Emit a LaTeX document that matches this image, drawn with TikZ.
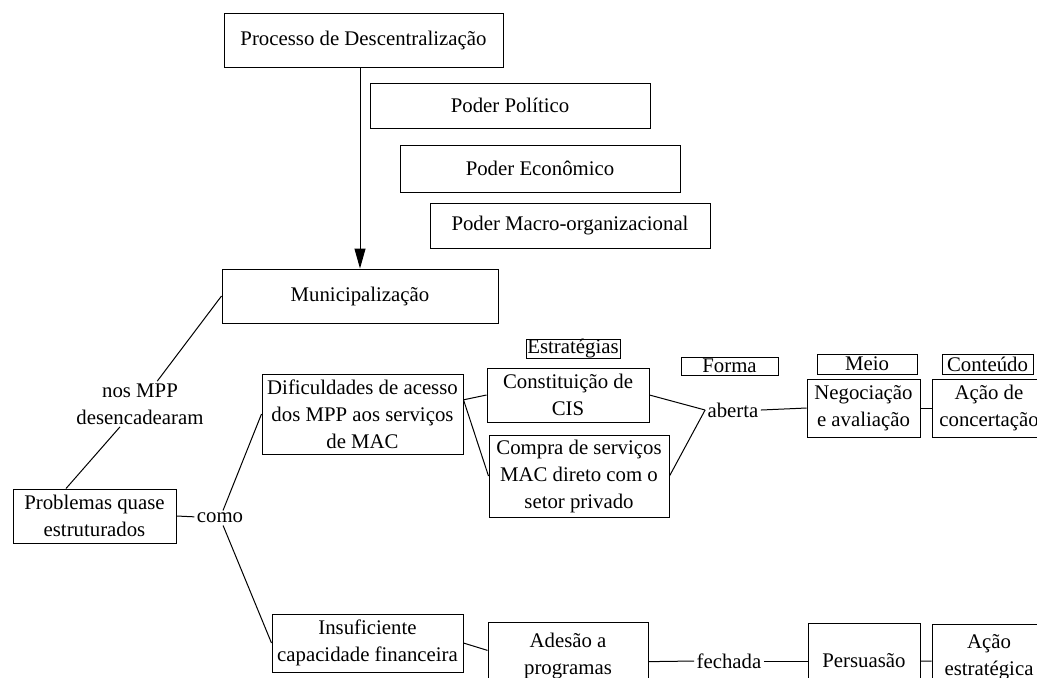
\documentclass[tikz,border=0pt]{standalone}
\usepackage{fontspec}
\setmainfont{Liberation Serif}
\usetikzlibrary{arrows.meta}
\tikzset{
  box/.style={draw, line width=0.5pt, inner sep=0pt, align=center},
  word/.style={inner sep=1pt, align=center}
}
\begin{document}
\begin{tikzpicture}[x=0.5pt, y=-0.5pt, line width=0.5pt]
      \fontsize{10.4}{13.5}\selectfont
      \useasboundingbox (0,0) rectangle (1037,677);
      \clip (0,0) rectangle (1037,677);
      \draw
        (363.5,40) node[box, minimum width=139.5pt, minimum height=27pt] (proc){Processo de Descentralização}
        (510,105.5) node[box, minimum width=140pt, minimum height=22.5pt] (pol){Poder Político}
        (540,168.5) node[box, minimum width=140pt, minimum height=23.5pt] (eco){Poder Econômico}
        (570,225.5) node[box, minimum width=140pt, minimum height=22.5pt] (macro){Poder Macro-organizacional}
        (360,296) node[box, minimum width=138pt, minimum height=27pt] (mun){Municipalização}
        (140,404) node[word] (nos){nos MPP\\desencadearam}
        (94.5,516) node[box, minimum width=81.5pt, minimum height=27pt] (prob){Problemas quase\\estruturados}
        (220,518) node[word] (como){como}
        (362.5,414) node[box, minimum width=100.5pt, minimum height=40pt] (dif){Dificuldades de acesso\\dos MPP aos serviços\\de MAC}
        (367.5,643) node[box, minimum width=95.5pt, minimum height=29pt] (insu){Insuficiente\\capacidade financeira};
      \draw
        (573,348.5) node[box, minimum width=47pt, minimum height=9.5pt] (estr){Estratégias}
        (729.5,366) node[box, minimum width=48.5pt, minimum height=9pt] (forma){Forma}
        (867,364) node[box, minimum width=50pt, minimum height=10pt] (meio){Meio}
        (987.5,364) node[box, minimum width=45.5pt, minimum height=10pt] (cont){Conteúdo}
        (568,395) node[box, minimum width=81pt, minimum height=27pt] (cis){Constituição de\\CIS}
        (579,476) node[box, minimum width=90pt, minimum height=41pt] (compra){Compra de serviços\\MAC direto com o\\setor privado}
        (733,410) node[word] (aberta){aberta}
        (863.5,408) node[box, minimum width=56.5pt, minimum height=29pt] (neg){Negociação\\e avaliação}
        (989,408) node[box, minimum width=57pt, minimum height=29pt] (acao1){Ação de\\concertação}
        (568,656) node[box, minimum width=80pt, minimum height=34pt] (adesao){Adesão a\\programas}
        (729,661) node[word] (fechada){fechada}
        (864,661) node[box, minimum width=56pt, minimum height=38pt] (pers){Persuasão}
        (989,657) node[box, minimum width=57pt, minimum height=33pt] (acao2){Ação\\estratégica};
      \draw[-{Triangle[length=10pt,width=5.5pt]}] (proc.south -| mun.north) to (mun.north);
      \begin{scope}[-]
        \draw (mun.west) to (nos);
        \draw (nos) to (prob.136);
        \draw (prob.east) to (como);
        \draw (como) to (dif.west);
        \draw (como) to (insu.west);
        \draw (dif.8) to (cis.west);
        \draw (dif.8) to (compra.west);
        \draw (insu.east) to (adesao.176);
        \draw (cis.east) to (aberta.west);
        \draw (compra.east) to (aberta.west);
        \draw (aberta.east) to (neg.west);
        \draw (neg.east) to (acao1.west);
        \draw (adesao.-4) to (fechada.west);
        \draw (fechada.east) to (pers.west);
        \draw (pers.east) to (acao2.184);
      \end{scope}
    \end{tikzpicture}
\end{document}
